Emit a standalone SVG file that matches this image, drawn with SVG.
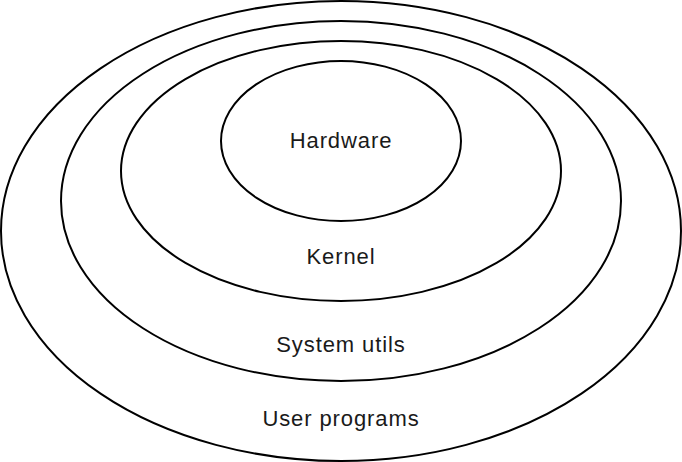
<svg xmlns="http://www.w3.org/2000/svg" width="682" height="462" viewBox="0 0 682 462">
<style>
.e{fill:#fff;stroke:#000;stroke-width:2}
.t{font-family:"Liberation Sans",Arial,sans-serif;font-size:22px;letter-spacing:0.9px;fill:#1a1a1a;text-anchor:middle}
</style>
<rect width="682" height="462" fill="#fff"/>
<g id="user"><ellipse class="e" cx="341" cy="231" rx="340" ry="230"/><text class="t" x="341" y="426">User programs</text></g>
<g id="sys"><ellipse class="e" cx="341" cy="201" rx="280" ry="180"/><text class="t" x="341" y="352">System utils</text></g>
<g id="kernel"><ellipse class="e" cx="341" cy="171" rx="220" ry="130"/><text class="t" x="341" y="264">Kernel</text></g>
<g id="hw"><ellipse class="e" cx="341" cy="141" rx="120" ry="80"/><text class="t" x="341" y="148">Hardware</text></g>
<g id="connectors"/>
</svg>
